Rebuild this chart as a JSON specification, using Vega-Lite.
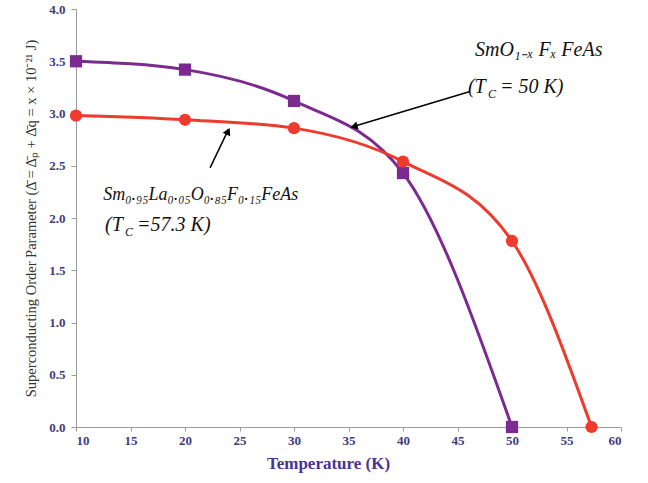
{
  "$schema": "https://vega.github.io/schema/vega-lite/v6.json",
  "width": 545,
  "height": 418,
  "autosize": "none",
  "padding": {"left": 76, "top": 9, "right": 27, "bottom": 56},
  "background": "white",
  "config": {"view": {"stroke": null}},
  "datasets": {
    "curves": [
      {"series": "SmO1-xFxFeAs", "T": 10, "gap": 3.50},
      {"series": "SmO1-xFxFeAs", "T": 20, "gap": 3.42},
      {"series": "SmO1-xFxFeAs", "T": 30, "gap": 3.12},
      {"series": "SmO1-xFxFeAs", "T": 40, "gap": 2.43},
      {"series": "SmO1-xFxFeAs", "T": 50, "gap": 0.0},
      {"series": "Sm0.95La0.05O0.85F0.15FeAs", "T": 10, "gap": 2.98},
      {"series": "Sm0.95La0.05O0.85F0.15FeAs", "T": 20, "gap": 2.94},
      {"series": "Sm0.95La0.05O0.85F0.15FeAs", "T": 30, "gap": 2.86},
      {"series": "Sm0.95La0.05O0.85F0.15FeAs", "T": 40, "gap": 2.54},
      {"series": "Sm0.95La0.05O0.85F0.15FeAs", "T": 50, "gap": 1.78},
      {"series": "Sm0.95La0.05O0.85F0.15FeAs", "T": 57.3, "gap": 0.0}
    ],
    "labels": [
      {"label": "SmO₁₋ₓ Fₓ FeAs", "T": 46.6, "gap": 3.61},
      {"label": "(T", "T": 45.96, "gap": 3.25},
      {"label": "= 50 K)", "T": 48.9, "gap": 3.25},
      {"label": "(T", "T": 12.66, "gap": 1.93},
      {"label": "=57.3 K)", "T": 15.6, "gap": 1.93}
    ],
    "formula": [
      {"label": "Sm₀.₉₅La₀.₀₅O₀.₈₅F₀.₁₅FeAs", "T": 12.5, "gap": 2.22}
    ],
    "subs": [
      {"label": "C", "T": 47.8, "gap": 3.19},
      {"label": "C", "T": 14.5, "gap": 1.87}
    ],
    "arrows": [
      {"T": 46.15, "gap": 3.21, "T2": 35.3, "gap2": 2.87},
      {"T": 22.3, "gap": 2.48, "T2": 24.0, "gap2": 2.85}
    ]
  },
  "layer": [
    {
      "data": {"name": "curves"},
      "mark": {"type": "line", "interpolate": "monotone", "strokeWidth": 3},
      "encoding": {
        "x": {
          "field": "T", "type": "quantitative",
          "scale": {"domain": [10, 60], "nice": false, "zero": false},
          "axis": {
            "values": [10, 15, 20, 25, 30, 35, 40, 45, 50, 55, 60],
            "format": "d",
            "title": "Temperature (K)",
            "grid": false,
            "domainColor": "#9a9a9a",
            "tickColor": "#9a9a9a",
            "tickSize": 4,
            "labelFont": "Liberation Serif",
            "labelFontWeight": "bold",
            "labelFontSize": 13,
            "labelColor": "#3f3a7e",
            "labelPadding": 3,
            "titleFont": "Liberation Serif",
            "titleFontWeight": "bold",
            "titleFontSize": 17,
            "titleColor": "#4a3490",
            "titlePadding": 8,
            "titleX": 252
          }
        },
        "y": {
          "field": "gap", "type": "quantitative",
          "scale": {"domain": [0, 4], "nice": false},
          "axis": {
            "values": [0, 0.5, 1, 1.5, 2, 2.5, 3, 3.5, 4],
            "format": ".1f",
            "title": "Superconducting Order Parameter (Δ̄ = Δ̄ₚ + Δ̄q = x × 10⁻²¹ J)",
            "grid": false,
            "domainColor": "#9a9a9a",
            "tickColor": "#9a9a9a",
            "tickSize": 5,
            "labelFont": "Liberation Serif",
            "labelFontWeight": "bold",
            "labelFontSize": 13,
            "labelColor": "#3f3a7e",
            "labelPadding": 6,
            "titleFont": "Liberation Serif",
            "titleFontWeight": "normal",
            "titleFontSize": 14.5,
            "titleColor": "#333333",
            "titlePadding": 10
          }
        },
        "color": {
          "field": "series", "type": "nominal",
          "scale": {"domain": ["SmO1-xFxFeAs", "Sm0.95La0.05O0.85F0.15FeAs"], "range": ["#7b2a90", "#ee3b2e"]},
          "legend": null
        }
      }
    },
    {
      "data": {"name": "curves"},
      "mark": {"type": "point", "filled": true, "opacity": 1},
      "encoding": {
        "x": {"field": "T", "type": "quantitative"},
        "y": {"field": "gap", "type": "quantitative"},
        "color": {"field": "series", "type": "nominal", "legend": null},
        "shape": {
          "field": "series", "type": "nominal",
          "scale": {"domain": ["SmO1-xFxFeAs", "Sm0.95La0.05O0.85F0.15FeAs"], "range": ["square", "circle"]},
          "legend": null
        },
        "size": {"value": 150}
      }
    },
    {
      "data": {"name": "arrows"},
      "mark": {"type": "rule", "color": "black", "strokeWidth": 1.5},
      "encoding": {
        "x": {"field": "T", "type": "quantitative"},
        "y": {"field": "gap", "type": "quantitative"},
        "x2": {"field": "T2"},
        "y2": {"field": "gap2"}
      }
    },
    {
      "data": {"values": [{"T": 35.5, "gap": 2.875}]},
      "mark": {"type": "point", "shape": "triangle-up", "filled": true, "color": "black", "opacity": 1, "size": 70, "angle": 254},
      "encoding": {
        "x": {"field": "T", "type": "quantitative"},
        "y": {"field": "gap", "type": "quantitative"}
      }
    },
    {
      "data": {"values": [{"T": 23.95, "gap": 2.83}]},
      "mark": {"type": "point", "shape": "triangle-up", "filled": true, "color": "black", "opacity": 1, "size": 70, "angle": 26},
      "encoding": {
        "x": {"field": "T", "type": "quantitative"},
        "y": {"field": "gap", "type": "quantitative"}
      }
    },
    {
      "data": {"name": "labels"},
      "mark": {"type": "text", "align": "left", "baseline": "middle", "font": "Liberation Serif", "fontStyle": "italic", "fontSize": 20, "color": "#111111"},
      "encoding": {
        "x": {"field": "T", "type": "quantitative"},
        "y": {"field": "gap", "type": "quantitative"},
        "text": {"field": "label"}
      }
    },
    {
      "data": {"name": "formula"},
      "mark": {"type": "text", "align": "left", "baseline": "middle", "font": "Liberation Serif", "fontStyle": "italic", "fontSize": 18, "color": "#111111"},
      "encoding": {
        "x": {"field": "T", "type": "quantitative"},
        "y": {"field": "gap", "type": "quantitative"},
        "text": {"field": "label"}
      }
    },
    {
      "data": {"name": "subs"},
      "mark": {"type": "text", "align": "left", "baseline": "middle", "font": "Liberation Serif", "fontStyle": "italic", "fontSize": 12, "color": "#111111"},
      "encoding": {
        "x": {"field": "T", "type": "quantitative"},
        "y": {"field": "gap", "type": "quantitative"},
        "text": {"field": "label"}
      }
    }
  ]
}
